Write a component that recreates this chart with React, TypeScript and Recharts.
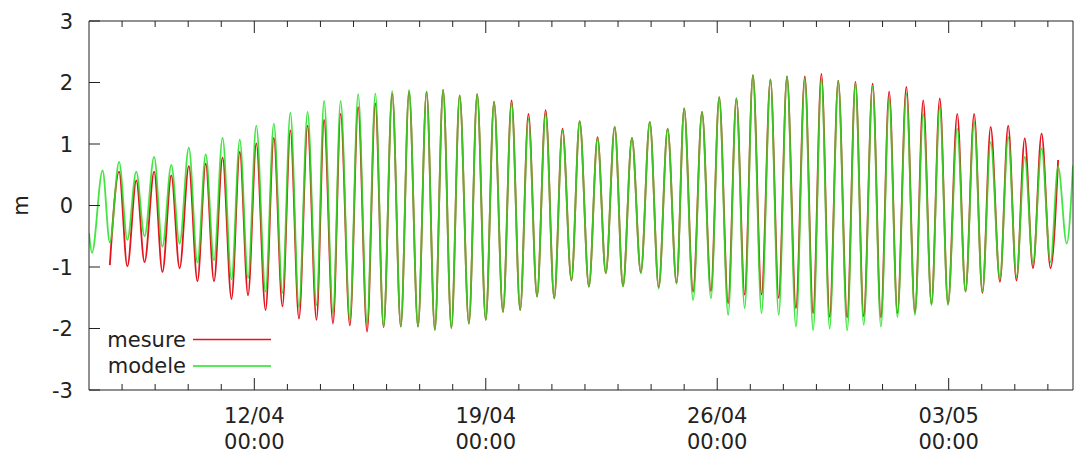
import { LineChart, Line, XAxis, YAxis, Legend } from 'recharts';

// time in days from 07/04 00:00, one point per high / low water
const days = [
    0.0, 0.09, 0.41, 0.63, 0.91, 1.16, 1.43, 1.68, 1.97, 2.22, 2.49, 2.74, 3.02, 3.28, 3.53, 3.78,
    4.04, 4.31, 4.56, 4.81, 5.06, 5.34, 5.59, 5.85, 6.09, 6.35, 6.61, 6.88, 7.11, 7.38, 7.61, 7.89,
    8.14, 8.41, 8.66, 8.91, 9.17, 9.43, 9.68, 9.95, 10.21, 10.46, 10.71, 10.96, 11.21, 11.49, 11.74, 12.0,
    12.25, 12.52, 12.78, 13.04, 13.29, 13.55, 13.81, 14.07, 14.32, 14.59, 14.84, 15.12, 15.38, 15.63, 15.9, 16.15,
    16.42, 16.69, 16.96, 17.23, 17.5, 17.77, 18.0, 18.27, 18.54, 18.81, 19.06, 19.33, 19.58, 19.83, 20.08, 20.34,
    20.61, 20.86, 21.11, 21.38, 21.65, 21.9, 22.15, 22.4, 22.66, 22.93, 23.18, 23.43, 23.7, 23.95, 24.2, 24.45,
    24.72, 24.98, 25.23, 25.48, 25.73, 25.98, 26.26, 26.51, 26.77, 27.02, 27.27, 27.55, 27.8, 28.05, 28.3, 28.55,
    28.81, 29.08, 29.31, 29.57, 29.76,
];

const mesure = [
    null, null, null, -0.97, 0.55, -0.99, 0.41, -0.92, 0.55, -1.08, 0.49, -1.02, 0.64, -1.23, 0.68, -1.23,
    0.78, -1.52, 0.87, -1.46, 1.01, -1.7, 1.1, -1.64, 1.22, -1.84, 1.3, -1.86, 1.39, -1.92, 1.49, -1.95,
    1.6, -2.05, 1.66, -1.98, 1.82, -1.97, 1.85, -1.97, 1.85, -2.02, 1.88, -1.99, 1.79, -1.92, 1.81, -1.86,
    1.69, -1.73, 1.71, -1.7, 1.49, -1.48, 1.55, -1.51, 1.25, -1.22, 1.37, -1.32, 1.11, -1.1, 1.28, -1.31,
    1.1, -1.09, 1.36, -1.33, 1.25, -1.26, 1.58, -1.4, 1.52, -1.39, 1.76, -1.59, 1.74, -1.45, 2.12, -1.45,
    2.05, -1.5, 2.1, -1.67, 2.1, -1.75, 2.14, -1.81, 2.03, -1.82, 2.01, -1.8, 1.98, -1.82, 1.85, -1.75,
    1.93, -1.74, 1.71, -1.6, 1.74, -1.6, 1.49, -1.4, 1.49, -1.42, 1.28, -1.24, 1.3, -1.22, 1.09, -1.02,
    1.17, -1.02, 0.74, null, null,
];

const modele = [
    -0.45, -0.77, 0.57, -0.6, 0.71, -0.56, 0.55, -0.5, 0.79, -0.67, 0.66, -0.62, 0.94, -0.93, 0.83, -0.89,
    1.1, -1.2, 1.07, -1.18, 1.3, -1.4, 1.33, -1.42, 1.51, -1.65, 1.52, -1.62, 1.7, -1.75, 1.7, -1.86,
    1.81, -1.92, 1.82, -1.97, 1.86, -1.97, 1.88, -1.97, 1.85, -2.03, 1.88, -2.0, 1.79, -1.92, 1.81, -1.86,
    1.68, -1.73, 1.66, -1.7, 1.41, -1.48, 1.49, -1.51, 1.22, -1.21, 1.37, -1.32, 1.09, -1.1, 1.28, -1.32,
    1.1, -1.1, 1.36, -1.35, 1.25, -1.27, 1.58, -1.54, 1.52, -1.51, 1.76, -1.78, 1.74, -1.67, 2.12, -1.75,
    2.05, -1.78, 2.1, -1.97, 2.06, -2.03, 2.06, -2.0, 2.02, -2.03, 1.99, -1.94, 1.95, -1.97, 1.74, -1.81,
    1.82, -1.78, 1.49, -1.62, 1.6, -1.62, 1.25, -1.4, 1.36, -1.4, 1.03, -1.19, 1.11, -1.16, 0.79, -0.94,
    0.93, -0.92, 0.63, -0.62, 0.65,
];

const dayTicks = [1, 2, 3, 4, 5, 6, 7, 8, 9, 10, 11, 12, 13, 14, 15, 16, 17, 18, 19, 20, 21, 22, 23, 24, 25, 26, 27, 28, 29];
const majorDays = [5, 12, 19, 26];
const majorDates = ['12/04', '19/04', '26/04', '03/05'];
const majorHour = '00:00';
const yTicks = [-3, -2, -1, 0, 1, 2, 3];

const data = days.map((t, i) => ({ t, mesure: mesure[i], modele: modele[i] }));

const FONT = '"DejaVu Sans", sans-serif';
const INK = '#222';
const RED = '#e3141c';
const GREEN = '#22e022';

const BottomTick = (props: any) => {
    const { x, y, payload } = props;
    const k = majorDays.indexOf(payload.value);
    const len = k >= 0 ? 12 : 6;
    return (
        <g>
            <line x1={x} y1={y} x2={x} y2={y - len} stroke={INK} />
            {k >= 0 && (
                <text textAnchor="middle" fontSize={21} fill={INK} fontFamily={FONT}>
                    <tspan x={x} y={y + 33}>{majorDates[k]}</tspan>
                    <tspan x={x} y={y + 59}>{majorHour}</tspan>
                </text>
            )}
        </g>
    );
};

const TopTick = (props: any) => {
    const { x, y, payload } = props;
    const len = majorDays.includes(payload.value) ? 12 : 6;
    return <line x1={x} y1={y} x2={x} y2={y + len} stroke={INK} />;
};

const LeftTick = (props: any) => {
    const { x, y, payload } = props;
    return (
        <g>
            <line x1={x} y1={y} x2={x + 11} y2={y} stroke={INK} />
            <text x={x - 16} y={y} dy="0.36em" textAnchor="end" fontSize={21} fill={INK} fontFamily={FONT}>
                {payload.value}
            </text>
        </g>
    );
};

const RightTick = (props: any) => {
    const { x, y } = props;
    return <line x1={x} y1={y} x2={x - 11} y2={y} stroke={INK} />;
};

const YTitle = (props: any) => {
    const { viewBox } = props;
    const cx = viewBox.x - 1;
    const cy = viewBox.y + viewBox.height / 2;
    return (
        <text x={cx} y={cy} textAnchor="middle" fontSize={21} fill={INK} fontFamily={FONT} transform={`rotate(-90 ${cx} ${cy})`}>
            m
        </text>
    );
};

const renderLegend = () => (
    <svg width={200} height={60}>
        {[
            { name: 'mesure', color: RED },
            { name: 'modele', color: GREEN },
        ].map((s, i) => (
            <g key={s.name}>
                <text x={96} y={27 + i * 26} textAnchor="end" fontSize={21} fill={INK} fontFamily={FONT}>
                    {s.name}
                </text>
                <line x1={103} x2={181} y1={19.5 + i * 26.5} y2={19.5 + i * 26.5} stroke={s.color} strokeWidth={1.5} />
            </g>
        ))}
    </svg>
);

export default function App() {
    return (
        <div style={{ position: 'absolute', left: 0, top: 0, background: '#fff' }}>
            <LineChart width={1075} height={455} data={data} margin={{ top: 20, right: 1, bottom: 0, left: 29 }}>
                <XAxis
                    dataKey="t"
                    type="number"
                    domain={[0, 29.76]}
                    allowDataOverflow
                    ticks={dayTicks}
                    interval={0}
                    height={65}
                    stroke={INK}
                    tickLine={false}
                    tickSize={0}
                    tickMargin={0}
                    tick={<BottomTick />}
                />
                <XAxis
                    xAxisId="top"
                    orientation="top"
                    dataKey="t"
                    type="number"
                    domain={[0, 29.76]}
                    allowDataOverflow
                    ticks={dayTicks}
                    interval={0}
                    height={1}
                    stroke={INK}
                    tickLine={false}
                    tickSize={0}
                    tickMargin={0}
                    tick={<TopTick />}
                />
                <YAxis
                    type="number"
                    domain={[-3, 3]}
                    ticks={yTicks}
                    interval={0}
                    width={60}
                    stroke={INK}
                    tickLine={false}
                    tickSize={0}
                    tickMargin={0}
                    tick={<LeftTick />}
                    label={<YTitle />}
                />
                <YAxis
                    yAxisId="r"
                    orientation="right"
                    type="number"
                    domain={[-3, 3]}
                    ticks={yTicks}
                    interval={0}
                    width={1}
                    stroke={INK}
                    tickLine={false}
                    tickSize={0}
                    tickMargin={0}
                    tick={<RightTick />}
                />
                <Legend
                    layout="vertical"
                    align="center"
                    verticalAlign="middle"
                    content={renderLegend}
                    wrapperStyle={{ left: 90, top: 320, width: 200, height: 60 }}
                />
                <Line type="monotone" dataKey="mesure" stroke={RED} strokeWidth={1.8} dot={false} isAnimationActive={false} />
                <Line
                    type="monotone"
                    dataKey="modele"
                    stroke={GREEN}
                    strokeOpacity={0.85}
                    strokeWidth={1.8}
                    dot={false}
                    isAnimationActive={false}
                />
            </LineChart>
        </div>
    );
}
